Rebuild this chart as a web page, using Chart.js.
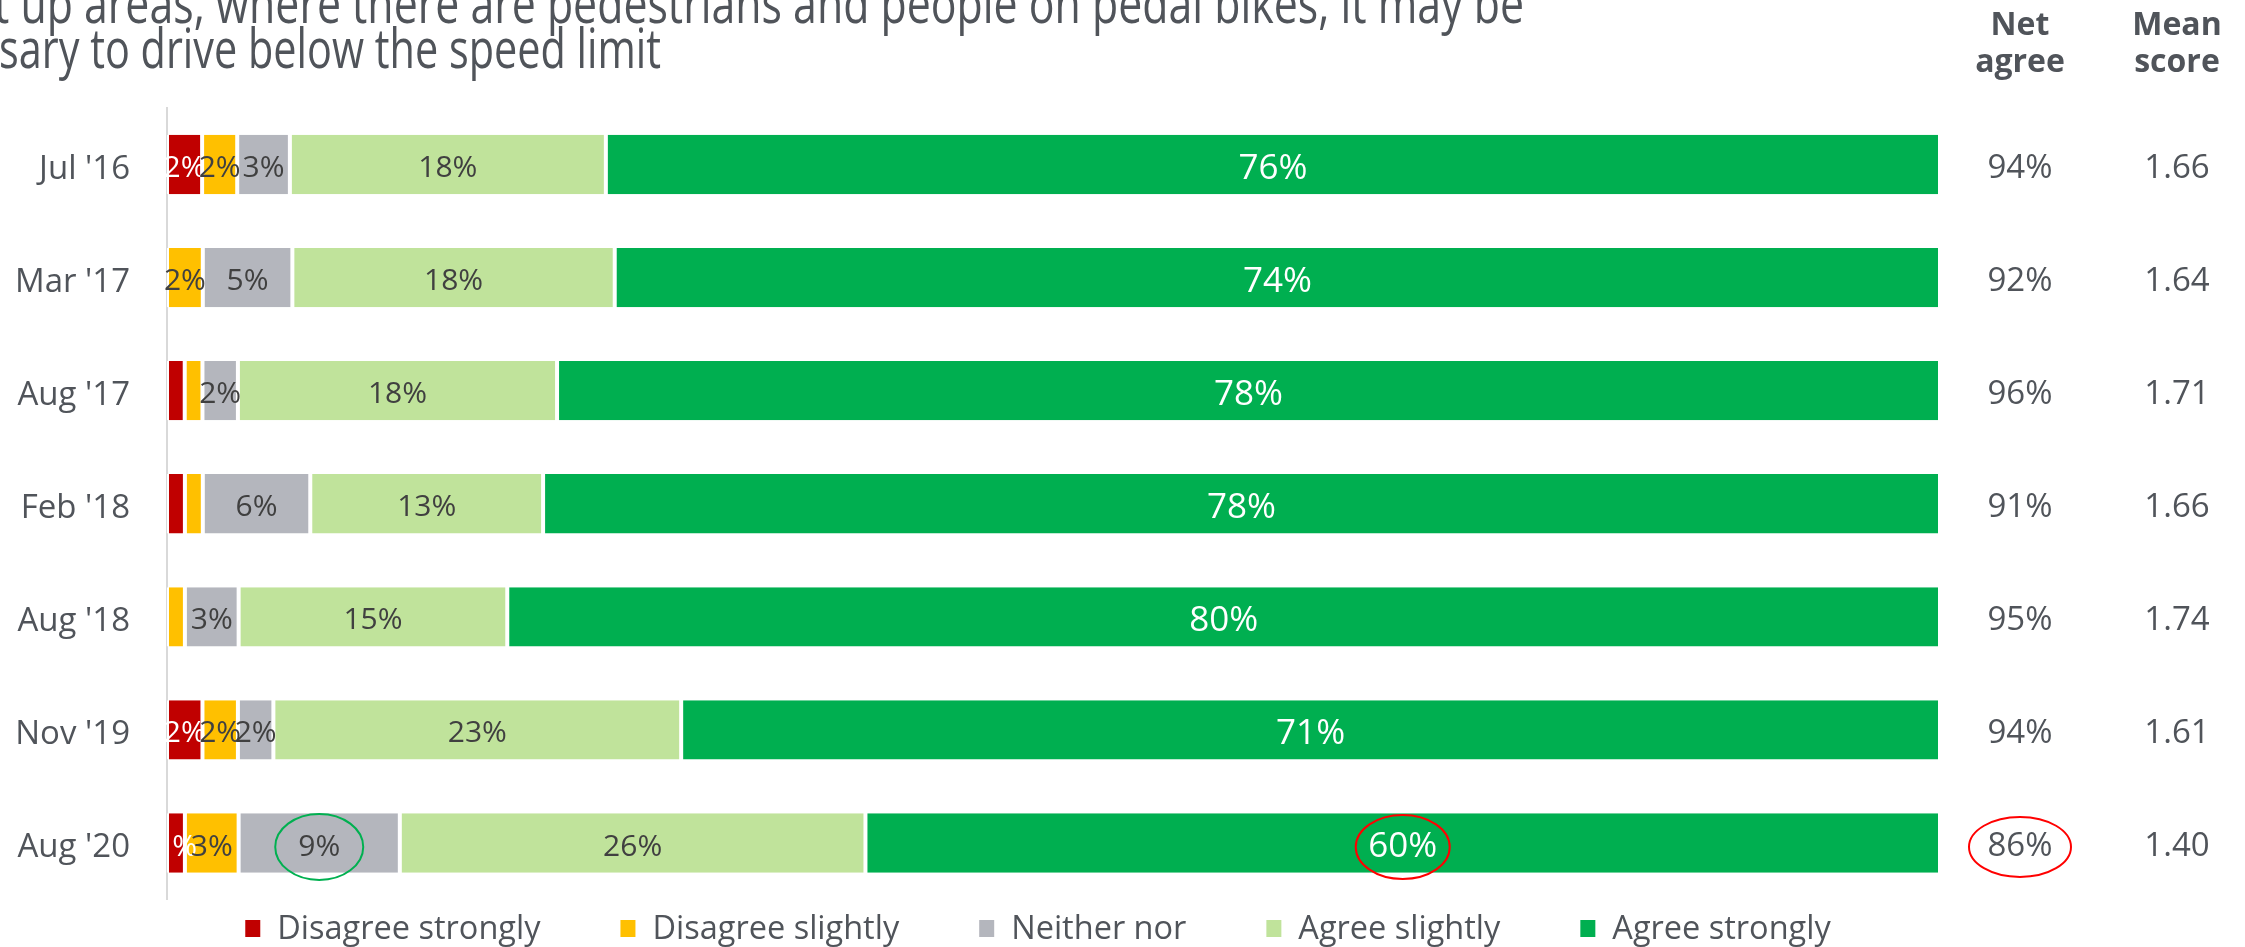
<!DOCTYPE html>
<html>
<head>
<meta charset="utf-8">
<title>Survey chart</title>
<script src="https://cdn.jsdelivr.net/npm/chart.js@4.4.0/dist/chart.umd.min.js"></script>
<style>
    html, body { margin: 0; padding: 0; background: #fff; }
    #wrap { position: relative; width: 2245px; height: 947px; }
</style>
</head>
<body>
<div id="wrap"><canvas id="surveyChart"></canvas></div>
<script>
// survey waves and answers (percentages as printed)
const waves = ["Jul '16", "Mar '17", "Aug '17", "Feb '18", "Aug '18", "Nov '19", "Aug '20"];
const disagreeStrongly = [2, 0, 1, 1, 0, 2, 1];
const disagreeSlightly = [2, 2, 1, 1, 1, 2, 3];
const neitherNor = [3, 5, 2, 6, 3, 2, 9];
const agreeSlightly = [18, 18, 18, 13, 15, 23, 26];
const agreeStrongly = [76, 74, 78, 78, 80, 71, 60];
const netAgree = [94, 92, 96, 91, 95, 94, 86];
const meanScore = ['1.66', '1.64', '1.71', '1.66', '1.74', '1.61', '1.40'];
const titleLines = [
    't up areas, where there are pedestrians and people on pedal bikes, it may be',
    'sary to drive below the speed limit'
];
// 1% segments that still carry a label: [row, series]
const extraLabels = [[6, 0]];

const FONT = "'Open Sans', 'Noto Sans', sans-serif";
const TEXT = '#50545A';

const series = [
    { label: 'Disagree strongly', values: disagreeStrongly, color: '#C00000', labelColor: '#FFFFFF' },
    { label: 'Disagree slightly', values: disagreeSlightly, color: '#FFC000', labelColor: '#404040' },
    { label: 'Neither nor', values: neitherNor, color: '#B4B6BD', labelColor: '#404040' },
    { label: 'Agree slightly', values: agreeSlightly, color: '#C0E39B', labelColor: '#404040' },
    { label: 'Agree strongly', values: agreeStrongly, color: '#00AF50', labelColor: '#FFFFFF' },
];

// each bar is stretched to 100% of its own total
const rowTotals = waves.map((w, i) => series.reduce((s, d) => s + d.values[i], 0));

// circled figures: [row, series] in the bars, plus the net agree column
const circles = [
    { row: 6, series: 2, color: '#00B050', rx: 44, ry: 33 },
    { row: 6, series: 4, color: '#FF0000', rx: 47, ry: 32 },
    { row: 6, column: 'net', color: '#FF0000', rx: 51, ry: 30 },
];

const segmentLabels = {
    id: 'segmentLabels',
    afterDatasetsDraw(chart) {
        const ctx = chart.ctx;
        chart.data.datasets.forEach((ds, di) => {
            const meta = chart.getDatasetMeta(di);
            meta.data.forEach((bar, i) => {
                const v = ds.values[i];
                const extra = extraLabels.some(([r, s]) => r === i && s === di);
                if (v < 2 && !extra) return;
                ctx.save();
                ctx.font = (di === 4 ? 35 : 30) + 'px ' + FONT;
                ctx.fillStyle = ds.labelColor;
                ctx.textAlign = 'center';
                ctx.textBaseline = 'middle';
                ctx.fillText(v + '%', (bar.x + bar.base) / 2, bar.y + 4);
                ctx.restore();
            });
        });
    }
};

const sideColumns = {
    id: 'sideColumns',
    afterDraw(chart) {
        const ctx = chart.ctx;
        const y = chart.scales.y;
        const netX = 2020, meanX = 2177;
        ctx.save();
        ctx.fillStyle = TEXT;
        ctx.textAlign = 'center';
        ctx.textBaseline = 'alphabetic';
        ctx.font = 'bold 32px ' + FONT;
        ctx.fillText('Net', netX, 35);
        ctx.fillText('agree', netX, 72);
        ctx.fillText('Mean', meanX, 35);
        ctx.fillText('score', meanX, 72);
        ctx.font = '33px ' + FONT;
        ctx.textBaseline = 'middle';
        waves.forEach((w, i) => {
            const py = y.getPixelForValue(i) + 4;
            ctx.fillText(netAgree[i] + '%', netX, py);
            ctx.fillText(meanScore[i], meanX, py);
        });
        // circled figures
        ctx.lineWidth = 2;
        circles.forEach(c => {
            let cx, cy;
            if (c.column === 'net') {
                cx = netX;
                cy = y.getPixelForValue(c.row) + 4;
            } else {
                const bar = chart.getDatasetMeta(c.series).data[c.row];
                cx = (bar.x + bar.base) / 2;
                cy = bar.y + 4;
            }
            ctx.strokeStyle = c.color;
            ctx.beginPath();
            ctx.ellipse(cx, cy, c.rx, c.ry, 0, 0, Math.PI * 2);
            ctx.stroke();
        });
        ctx.restore();
    }
};

const titleAndLegend = {
    id: 'titleAndLegend',
    afterDraw(chart) {
        const ctx = chart.ctx;
        ctx.save();
        // title, cut off at the left and top like the slide
        ctx.fillStyle = TEXT;
        ctx.font = '54px ' + FONT;
        ctx.textBaseline = 'alphabetic';
        [[titleLines[0], 1530, 23, -6], [titleLines[1], 662, 68, -1]].forEach(([t, w, by, bx]) => {
            const sx = w / ctx.measureText(t).width;
            ctx.save();
            ctx.scale(sx, 1);
            ctx.fillText(t, bx / sx, by);
            ctx.restore();
        });

        // legend
        const box = 15, gap = 17, spacing = 80, ly = 928;
        ctx.font = '32.5px ' + FONT;
        const items = chart.data.datasets.map(ds => ({
            text: ds.label, color: ds.backgroundColor, w: ctx.measureText(ds.label).width
        }));
        const total = items.reduce((s, it) => s + box + gap + it.w, 0) + spacing * (items.length - 1);
        let x = 1038 - total / 2;
        ctx.textBaseline = 'middle';
        ctx.textAlign = 'left';
        items.forEach(it => {
            ctx.fillStyle = it.color;
            ctx.fillRect(x, ly - 8, box, 17);
            ctx.fillStyle = TEXT;
            ctx.fillText(it.text, x + box + gap, ly + 2);
            x += box + gap + it.w + spacing;
        });
        ctx.restore();
    }
};

const ctx = document.getElementById('surveyChart').getContext('2d');
const surveyChart = new Chart(ctx, {
    type: 'bar',
    data: {
        labels: waves,
        datasets: series.map(s => ({
            label: s.label,
            values: s.values,
            labelColor: s.labelColor,
            data: s.values.map((v, i) => v / rowTotals[i] * 100),
            backgroundColor: s.color,
            borderColor: '#FFFFFF',
            borderWidth: { left: 2, right: 2, top: 0, bottom: 0 },
            borderSkipped: false,
            categoryPercentage: 1,
            barPercentage: 0.525,
        })),
    },
    options: {
        indexAxis: 'y',
        responsive: true,
        maintainAspectRatio: false,
        animation: false,
        layout: { padding: { top: 108, right: 305, bottom: 47.5, left: 0 } },
        plugins: {
            legend: { display: false },
            tooltip: { enabled: false },
        },
        scales: {
            x: { stacked: true, min: 0, max: 100, display: false },
            y: {
                stacked: true,
                // fixed axis width, and no extra room kept for the end labels
                afterFit: s => { s.width = 167; s.paddingTop = 0; s.paddingBottom = 0; },
                grid: { display: true, color: 'rgba(0,0,0,0)', drawTicks: false },
                border: { display: true, color: '#D9D9D9', width: 2 },
                ticks: { color: TEXT, font: { family: FONT, size: 33 }, padding: 37, labelOffset: 5 },
            },
        },
    },
    plugins: [segmentLabels, sideColumns, titleAndLegend],
});
</script>
</body>
</html>
